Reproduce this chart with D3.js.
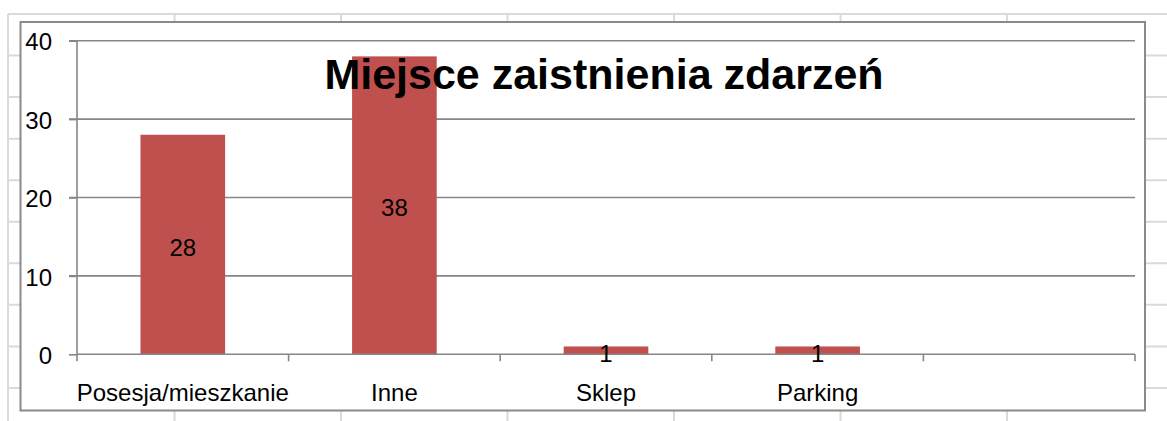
<!DOCTYPE html>
<html><head><meta charset="utf-8">
<script src="https://cdn.jsdelivr.net/npm/d3@7"></script>
<style>
html,body{margin:0;padding:0;background:#fff;}
svg{display:block;}
text{font-family:"Liberation Sans",Arial,sans-serif;fill:#000;}
</style></head>
<body>
<svg id="chart" width="1167" height="421"></svg>
<script>
const title = "Miejsce zaistnienia zdarzeń";
const categories = ["Posesja/mieszkanie", "Inne", "Sklep", "Parking", ""];
const values = [28, 38, 1, 1, null];
const yTicks = [0, 10, 20, 30, 40];

const W = 1167, H = 421;
const svg = d3.select("#chart");

// Spreadsheet cell grid behind the chart
const sheet = svg.append("g");
const colX = d3.range(8, W, 166.5);
const rowY = d3.range(14, H, 41.55);
sheet.selectAll("line.c").data(colX).join("line")
  .attr("x1", d => d).attr("x2", d => d).attr("y1", 14).attr("y2", H)
  .attr("stroke", "#dadada").attr("stroke-width", 2);
sheet.selectAll("line.r").data(rowY).join("line")
  .attr("x1", 8).attr("x2", W).attr("y1", d => d).attr("y2", d => d)
  .attr("stroke", "#dadada").attr("stroke-width", 2);

// Chart area
svg.append("rect").attr("x", 20.5).attr("y", 22).attr("width", 1124.5).attr("height", 388.5)
  .attr("fill", "#fff").attr("stroke", "#8a8a8a").attr("stroke-width", 2);

const x0 = 77, x1 = 1135, yBottom = 354.3, yTop = 40.7;
const x = d3.scaleBand().domain(d3.range(categories.length)).range([x0, x1]).padding(0);
const y = d3.scaleLinear().domain([0, 40]).range([yBottom, yTop]);

// Gridlines
svg.append("g").selectAll("line").data(yTicks.filter(t => t > 0)).join("line")
  .attr("x1", x0 - 8).attr("x2", x1).attr("y1", d => y(d)).attr("y2", d => y(d))
  .attr("stroke", "#868686").attr("stroke-width", 1.6);

// Bars
const bw = x.bandwidth() * 0.4;
svg.append("g").selectAll("rect").data(values.map((v, i) => ({v, i})).filter(d => d.v != null)).join("rect")
  .attr("x", d => x(d.i) + (x.bandwidth() - bw) / 2)
  .attr("width", bw)
  .attr("y", d => y(d.v))
  .attr("height", d => y(0) - y(d.v))
  .attr("fill", "#c0504d");

// Y axis
const yAxis = svg.append("g").attr("transform", `translate(${x0},0)`)
  .call(d3.axisLeft(y).tickValues(yTicks).tickSize(8).tickPadding(17).tickFormat(d3.format("d")));
yAxis.select(".domain").attr("stroke", "#868686").attr("stroke-width", 1.6).attr("d", `M-8,${yTop}H0V${yBottom}`);
yAxis.selectAll(".tick line").attr("stroke", "#868686").attr("stroke-width", 1.6);
yAxis.selectAll(".tick text").attr("font-size", 24).attr("font-family", "Liberation Sans, Arial, sans-serif").attr("fill", "#000").attr("dy", "0.38em");

// X axis line + boundary ticks
const bounds = categories.map((c, i) => x(i)).concat([x1]);
svg.append("line").attr("x1", x0).attr("x2", x1).attr("y1", yBottom).attr("y2", yBottom)
  .attr("stroke", "#868686").attr("stroke-width", 1.6);
svg.append("g").selectAll("line").data(bounds).join("line")
  .attr("x1", d => d).attr("x2", d => d).attr("y1", yBottom).attr("y2", yBottom + 7)
  .attr("stroke", "#868686").attr("stroke-width", 1.6);

// Category labels
svg.append("g").selectAll("text").data(categories).join("text")
  .attr("x", (d, i) => x(i) + x.bandwidth() / 2)
  .attr("y", 401)
  .attr("text-anchor", "middle")
  .attr("font-size", 24)
  .text(d => d);

// Data labels
svg.append("g").selectAll("text").data(values.map((v, i) => ({v, i})).filter(d => d.v != null)).join("text")
  .attr("x", d => x(d.i) + x.bandwidth() / 2)
  .attr("y", d => (y(d.v) + y(0)) / 2 + (d.v < 5 ? 12 : 11))
  .attr("text-anchor", "middle")
  .attr("font-size", 24)
  .text(d => d.v);

// Title
svg.append("text").attr("x", 604).attr("y", 89).attr("text-anchor", "middle")
  .attr("font-size", 43).attr("font-weight", "bold").text(title);
</script>
</body></html>
